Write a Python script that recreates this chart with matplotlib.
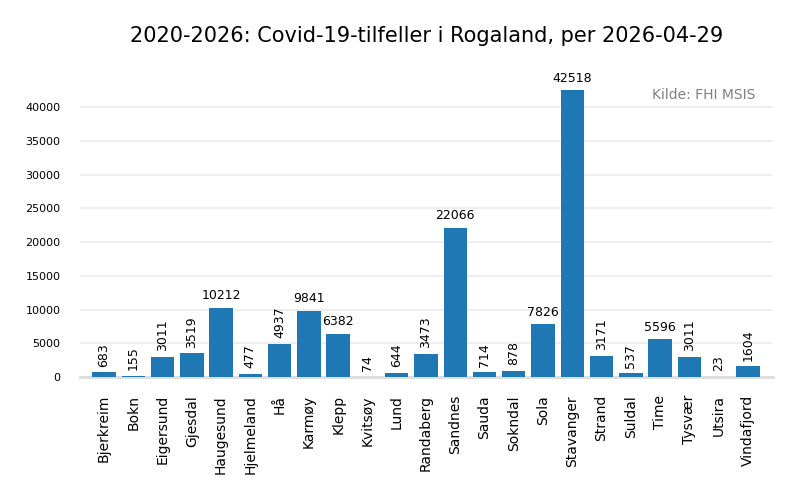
import matplotlib.pyplot as plt

kommuner = ["Bjerkreim", "Bokn", "Eigersund", "Gjesdal", "Haugesund", "Hjelmeland",
            "Hå", "Karmøy", "Klepp", "Kvitsøy", "Lund", "Randaberg", "Sandnes",
            "Sauda", "Sokndal", "Sola", "Stavanger", "Strand", "Suldal", "Time",
            "Tysvær", "Utsira", "Vindafjord"]
tilfeller = [683, 155, 3011, 3519, 10212, 477, 4937, 9841, 6382, 74, 644, 3473,
             22066, 714, 878, 7826, 42518, 3171, 537, 5596, 3011, 23, 1604]

fig = plt.figure(figsize=(8, 5), dpi=100)
ax = fig.add_axes([0.1, 0.246, 0.866, 0.631])

bars = ax.bar(kommuner, tilfeller, color="#1f77b4", width=0.8, zorder=3)

ymax = max(tilfeller) * 1.1
ax.set_ylim(0, ymax)
ax.set_xlim(-0.82, len(kommuner) - 0.15)
ax.set_yticks(range(0, 45000, 5000))

for bar, val in zip(bars, tilfeller):
    x = bar.get_x() + bar.get_width() / 2
    if val < 5000:
        ax.text(x, val + ymax * 0.018, str(val), ha="center", va="bottom",
                rotation=90, fontsize=9)
    else:
        ax.text(x, val + ymax * 0.018, str(val), ha="center", va="bottom",
                fontsize=9)

ax.grid(axis="y", color="#ebebeb", linewidth=1.2, zorder=0)
for side in ["top", "right", "left"]:
    ax.spines[side].set_visible(False)
ax.spines["bottom"].set_color("#dddddd")
ax.spines["bottom"].set_linewidth(2)
ax.tick_params(axis="y", length=0, labelsize=8, pad=14)
ax.tick_params(axis="x", length=0, labelsize=10, rotation=90, pad=13)

ax.text(0.975, 0.915, "Kilde: FHI MSIS", transform=ax.transAxes, ha="right",
        va="top", fontsize=10, color="grey")

fig.suptitle("2020-2026: Covid-19-tilfeller i Rogaland, per 2026-04-29",
             fontsize=15, x=0.533, y=0.948)

fig.savefig("out.png", dpi=100)
